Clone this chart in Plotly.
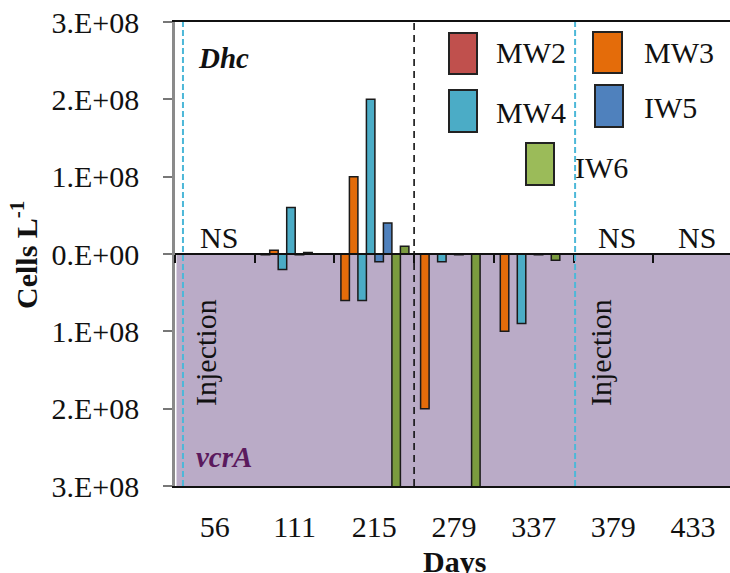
import plotly.graph_objects as go

# ---------------- data ----------------
categories = ["56", "111", "215", "279", "337", "379", "433"]
wells = ["MW2", "MW3", "MW4", "IW5", "IW6"]

# Dhc (plotted upward), cells/L ; None = not sampled
dhc_MW2 = [None, 0, 0, 0, 0, None, None]
dhc_MW3 = [None, 5e6, 1.0e8, 0, 0, None, None]
dhc_MW4 = [None, 6e7, 2.0e8, 0, 0, None, None]
dhc_IW5 = [None, 2e6, 4e7, 0, 0, None, None]
dhc_IW6 = [None, 0, 1e7, 0, 0, None, None]

# vcrA (plotted downward), cells/L
vcra_MW2 = [None, 0, 0, 0, 0, None, None]
vcra_MW3 = [None, 1e6, 6e7, 2.0e8, 1.0e8, None, None]
vcra_MW4 = [None, 2e7, 6e7, 1e7, 9e7, None, None]
vcra_IW5 = [None, 1e6, 1e7, 1e6, 1e6, None, None]
vcra_IW6 = [None, 0, 3.5e8, 3.5e8, 8e6, None, None]

not_sampled = ["56", "379", "433"]

ytick_vals = [3e8, 2e8, 1e8, 0, -1e8, -2e8, -3e8]
ytick_text = ["3.E+08", "2.E+08", "1.E+08", "0.E+00", "1.E+08", "2.E+08", "3.E+08"]

dhc = {"MW2": dhc_MW2, "MW3": dhc_MW3, "MW4": dhc_MW4, "IW5": dhc_IW5, "IW6": dhc_IW6}
vcra = {"MW2": vcra_MW2, "MW3": vcra_MW3, "MW4": vcra_MW4, "IW5": vcra_IW5, "IW6": vcra_IW6}

# ---------------- style ----------------
FONT = "Times New Roman, Liberation Serif, Tinos, serif"
bar_colors = {"MW2": "#c0504d", "MW3": "#e46c0a", "MW4": "#4bacc6",
              "IW5": "#4f81bd", "IW6": "#7b9b3f"}
legend_colors = {"MW2": "#c0504d", "MW3": "#e46c0a", "MW4": "#4bacc6",
                 "IW5": "#4f81bd", "IW6": "#9bbb59"}
slot_vcra = {"MW2": 0, "MW3": 1, "MW4": 3, "IW5": 5, "IW6": 7}
slot_dhc = {"MW2": 0, "MW3": 2, "MW4": 4, "IW5": 6, "IW6": 8}

W, H = 730, 573
L, R, T, B = 175, 0, 22, 87
plot_w = W - L - R
plot_h = H - T - B
cat_px = 79.7
bar_w = 8.5 / cat_px
x_range = [-0.5, -0.5 + plot_w / cat_px]


def slot_offset(k):
    return -0.5 + (6.5 + (k - 1) * 8.5) / cat_px


def px(xp):
    return (xp - L) / plot_w


def py(yp):
    return (H - B - yp) / plot_h


fig = go.Figure()

for w in wells:
    fig.add_trace(go.Bar(
        x=categories, y=[None if v is None else -v for v in vcra[w]],
        width=bar_w, offset=slot_offset(slot_vcra[w]),
        marker=dict(color=bar_colors[w], line=dict(color="#1a1a1a", width=1.5)),
        showlegend=False, name=w + " vcrA"))
    fig.add_trace(go.Bar(
        x=categories, y=dhc[w],
        width=bar_w, offset=slot_offset(slot_dhc[w]),
        marker=dict(color=bar_colors[w], line=dict(color="#1a1a1a", width=1.5)),
        showlegend=False, name=w + " Dhc"))

# dummy trace for the middle (zero) category axis
fig.add_trace(go.Scatter(x=categories, y=[None] * len(categories), xaxis="x2",
                         showlegend=False, hoverinfo="skip"))

shapes = []
# purple vcrA region
shapes.append(dict(type="rect", xref="paper", yref="y", x0=px(176.5), x1=1, y0=-3e8, y1=0,
                   fillcolor="#baabc7", line=dict(width=0), layer="below"))
# injection lines
for xv in [-0.4, 4.52]:
    shapes.append(dict(type="line", xref="x", yref="paper", x0=xv, x1=xv, y0=0, y1=1,
                       line=dict(color="#4db8d8", width=2, dash="6px,3px"), layer="above"))
# black dashed divider
shapes.append(dict(type="line", xref="x", yref="paper", x0=2.5, x1=2.5, y0=0, y1=1,
                   line=dict(color="#111111", width=1.6, dash="7px,5px"), layer="above"))

annotations = []
# legend (custom)
leg = [("MW2", 449, 477, 33, 74, 494, 53),
       ("MW3", 593, 622, 32, 73, 642, 53),
       ("MW4", 449, 477, 90, 132, 494, 112),
       ("IW5", 595, 623, 85, 127, 642, 108),
       ("IW6", 526, 554, 143, 185, 573, 167)]
for name, x0, x1, y0, y1, tx, ty in leg:
    shapes.append(dict(type="rect", xref="paper", yref="paper",
                       x0=px(x0), x1=px(x1), y0=py(y1), y1=py(y0),
                       fillcolor=legend_colors[name], line=dict(color="#222222", width=2),
                       layer="above"))
    annotations.append(dict(text=name, xref="paper", yref="paper", x=px(tx), y=py(ty),
                            xanchor="left", yanchor="middle", showarrow=False,
                            font=dict(family=FONT, size=30, color="#111111")))

# NS labels
for c in not_sampled:
    annotations.append(dict(text="NS", xref="x", yref="paper", x=categories.index(c), xshift=4,
                            y=py(237), xanchor="center", yanchor="middle", showarrow=False,
                            font=dict(family=FONT, size=30, color="#111111")))
# Injection labels
for xp in [205, 600]:
    annotations.append(dict(text="Injection", xref="paper", yref="paper", x=px(xp), y=py(353),
                            textangle=-90, xanchor="center", yanchor="middle", showarrow=False,
                            font=dict(family=FONT, size=30, color="#111111")))
annotations.append(dict(text="<b><i>Dhc</i></b>", xref="paper", yref="paper", x=px(196), y=py(58),
                        xanchor="left", yanchor="middle", showarrow=False,
                        font=dict(family=FONT, size=29, color="#111111")))
annotations.append(dict(text="<b><i>vcrA</i></b>", xref="paper", yref="paper", x=px(194), y=py(457),
                        xanchor="left", yanchor="middle", showarrow=False,
                        font=dict(family=FONT, size=29, color="#5b1a5e")))
annotations.append(dict(text="<b>Cells L<sup>-1</sup></b>", xref="paper", yref="paper",
                        x=px(24), y=py(255), textangle=-90, xanchor="center", yanchor="middle",
                        showarrow=False, font=dict(family=FONT, size=30, color="#111111")))
annotations.append(dict(text="<b>Days</b>", xref="paper", yref="paper", x=px(454), y=py(561),
                        xanchor="center", yanchor="middle", showarrow=False,
                        font=dict(family=FONT, size=30, color="#111111")))

fig.update_layout(
    width=W, height=H,
    margin=dict(l=L, r=R, t=T, b=B, pad=0),
    paper_bgcolor="white", plot_bgcolor="white",
    barmode="overlay",
    showlegend=False,
    xaxis=dict(type="category", categoryorder="array", categoryarray=categories,
               range=x_range, showgrid=False, zeroline=False,
               showline=True, linecolor="#111111", linewidth=2, mirror=True,
               ticks="", ticklabelstandoff=13,
               tickfont=dict(family=FONT, size=30, color="#111111")),
    xaxis2=dict(type="category", categoryorder="array", categoryarray=categories,
                range=x_range, overlaying="x", anchor="free", position=0.5,
                showgrid=False, zeroline=False, showline=True, linecolor="#111111",
                linewidth=2, ticks="outside", tickson="boundaries", ticklen=8,
                tickcolor="#111111", tickwidth=1.5, showticklabels=False),
    yaxis=dict(range=[-3e8, 3e8], tickvals=ytick_vals, ticktext=ytick_text,
               showgrid=False, zeroline=False, showline=True, linecolor="#8a8a8a",
               linewidth=2.5, ticks="outside", ticklen=9, tickcolor="#777777", tickwidth=1.5,
               ticklabelstandoff=18,
               tickfont=dict(family=FONT, size=30, color="#111111")),
    shapes=shapes,
    annotations=annotations,
)

fig.write_html("out.html")
